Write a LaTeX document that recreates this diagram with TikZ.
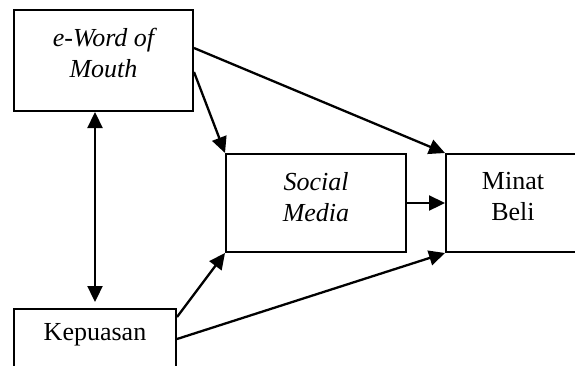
\documentclass[tikz,border=0pt]{standalone}
\usepackage{fontspec}
\setmainfont{Liberation Serif}
\usetikzlibrary{arrows.meta}
\begin{document}
\begin{tikzpicture}[x=1pt,y=-1pt,
  box/.style={draw, line width=2pt, rectangle, inner sep=0pt},
  lbl/.style={align=center, font=\fontsize{26}{31}\selectfont, inner sep=0pt},
  arr/.style={line width=2.3pt, -{Triangle[length=16pt,width=15pt]}},
  darr/.style={line width=2.3pt, {Triangle[length=16pt,width=15pt]}-{Triangle[length=16pt,width=15pt]}}]
\clip (0,0) rectangle (575,365);
\fill[white] (0,0) rectangle (575,365);
% boxes
\node[box, minimum width=179pt, minimum height=101pt] (ewom) at (103.5,60.5) {};
\node[box, minimum width=180pt, minimum height=98pt] (social) at (316,203) {};
\node[box, minimum width=134pt, minimum height=98pt] (minat) at (513,203) {};
\node[box, minimum width=162pt, minimum height=80pt] (kep) at (95,349) {};
% texts
\node[lbl] (ewomtxt) at (103.5,53) {\itshape e-Word of\\\itshape Mouth};
\node[lbl] (socialtxt) at (316,197) {\itshape Social\\\itshape Media};
\node[lbl] (minattxt) at (513,196.5) {Minat\\Beli};
\node[lbl] (keptxt) at (95,335) {Kepuasan};
% connectors
\draw[arr] ([yshift=12.5pt]ewom.east) -- (minat.north west);
\draw[arr] ([yshift=-11.5pt]ewom.east) -- (social.north west);
\draw[darr] ([xshift=-8.5pt]ewom.south) -- ([yshift=6pt]kep.north);
\draw[arr] ([yshift=-9pt]kep.north east) -- (social.south west);
\draw[arr] ([yshift=-31pt]kep.north east) -- (minat.south west);
\draw[arr] (social.east) -- (minat.west);
\end{tikzpicture}
\end{document}
